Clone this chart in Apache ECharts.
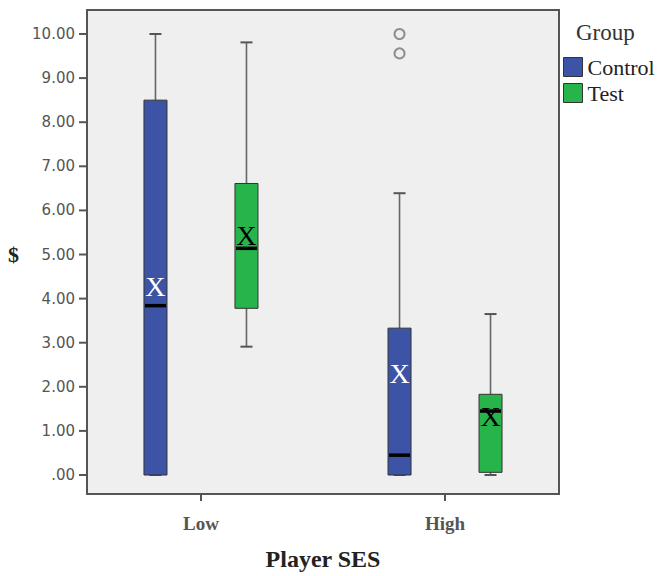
<!DOCTYPE html>
<html>
<head>
<meta charset="utf-8">
<script src="https://cdn.jsdelivr.net/npm/echarts@6/dist/echarts.min.js"></script>
<style>
  html, body { margin: 0; padding: 0; background: #fff; }
  #chart { width: 658px; height: 576px; }
</style>
</head>
<body>
<div id="chart"></div>
<script>
// categories on the x axis (position = index + 1)
const categories = ['Low', 'High'];
const groups = ['Control', 'Test'];
// [min, Q1, median, Q3, max] for each category
const controlBox = [[0, 0, 3.84, 8.5, 10.0], [0, 0, 0.45, 3.33, 6.39]];
const testBox = [[2.91, 3.78, 5.14, 6.61, 9.81], [0, 0.06, 1.45, 1.83, 3.65]];
// group means (drawn as "X")
const controlMean = [4.28, 2.31];
const testMean = [5.43, 1.32];
// outliers: [category position, value]
const controlOutliers = [[2, 10.0], [2, 9.56]];
const yTicks = [0, 1, 2, 3, 4, 5, 6, 7, 8, 9, 10];

const colors = ['#3d54a6', '#27b44b'];
const meanColors = ['#ffffff', '#000000'];
const boxOffset = [-45.5, 45.5];
const boxWidth = 23;
const capWidth = 12;
const tickLength = 8;
const xRange = [0.533, 2.467];

const chartDom = document.getElementById('chart');
const myChart = echarts.init(chartDom, null, { renderer: 'svg' });

const toData = (box, mean) => box.map((b, i) => [i + 1].concat(b, [mean[i]]));

const renderBox = (params, api) => {
  const ci = api.value(0);
  const xc = api.coord([ci, 0])[0] + boxOffset[params.seriesIndex];
  const y = (k) => api.coord([ci, api.value(k)])[1];
  const yMin = y(1), yQ1 = y(2), yMed = y(3), yQ3 = y(4), yMax = y(5), yMean = y(6);
  const lineStyle = { stroke: '#666', lineWidth: 1.6 };
  return {
    type: 'group',
    children: [
      { type: 'line', shape: { x1: xc, y1: yQ3, x2: xc, y2: yMax }, style: lineStyle },
      { type: 'line', shape: { x1: xc, y1: yQ1, x2: xc, y2: yMin }, style: lineStyle },
      { type: 'line', shape: { x1: xc - capWidth / 2, y1: yMax, x2: xc + capWidth / 2, y2: yMax }, style: { stroke: '#555', lineWidth: 2 } },
      { type: 'line', shape: { x1: xc - capWidth / 2, y1: yMin, x2: xc + capWidth / 2, y2: yMin }, style: { stroke: '#555', lineWidth: 2 } },
      {
        type: 'rect',
        shape: { x: xc - boxWidth / 2, y: yQ3, width: boxWidth, height: yQ1 - yQ3 },
        style: { fill: colors[params.seriesIndex], stroke: '#333', lineWidth: 1 }
      },
      { type: 'line', shape: { x1: xc - boxWidth / 2 + 1, y1: yMed, x2: xc + boxWidth / 2 - 1, y2: yMed }, style: { stroke: '#000', lineWidth: 3.5 } },
      {
        type: 'text',
        x: xc,
        y: yMean,
        style: {
          text: 'X',
          fill: meanColors[params.seriesIndex],
          font: '28px "Liberation Serif"',
          align: 'center',
          verticalAlign: 'middle'
        }
      }
    ]
  };
};

// y ticks, placed through the y scale at the left edge of the plot
const renderTick = (params, api) => {
  const p = api.coord([api.value(0), api.value(1)]);
  return {
    type: 'line',
    shape: { x1: p[0] - tickLength, y1: p[1], x2: p[0], y2: p[1] },
    style: { stroke: '#555', lineWidth: 2 }
  };
};

const option = {
  animation: false,
  backgroundColor: '#fff',
  title: {
    text: 'Group',
    left: 576,
    top: 21,
    padding: 0,
    textStyle: { fontFamily: 'Liberation Serif', fontSize: 23, fontWeight: 'normal', color: '#333' }
  },
  legend: {
    data: groups,
    orient: 'vertical',
    left: 563,
    top: 56,
    padding: 0,
    icon: 'rect',
    itemWidth: 19,
    itemHeight: 19,
    itemGap: 4,
    itemStyle: { borderColor: '#333', borderWidth: 1 },
    textStyle: { fontFamily: 'Liberation Serif', fontSize: 22, color: '#222' }
  },
  grid: [
    // frame of the plot
    {
      left: 87,
      right: 99,
      top: 10,
      bottom: 77,
      show: true,
      backgroundColor: '#efefef',
      borderColor: '#555',
      borderWidth: 2
    },
    // data area, 0 .. 10
    { left: 87, right: 99, top: 34, bottom: 101 }
  ],
  xAxis: [
    {
      gridIndex: 0,
      type: 'value',
      min: xRange[0],
      max: xRange[1],
      name: 'Player SES',
      nameLocation: 'middle',
      nameGap: 53,
      nameTextStyle: { fontFamily: 'Liberation Serif', fontSize: 24, fontWeight: 'bold', color: '#222' },
      axisLine: { show: true, onZero: false, lineStyle: { color: '#555', width: 2 } },
      splitLine: { show: false },
      axisTick: { show: true, length: 7, customValues: [1, 2], lineStyle: { color: '#555', width: 2 } },
      axisLabel: {
        customValues: [1, 2],
        margin: 20,
        formatter: (v) => categories[v - 1],
        fontFamily: 'Liberation Serif',
        fontSize: 19,
        fontWeight: 'bold',
        color: '#555'
      }
    },
    { gridIndex: 1, type: 'value', min: xRange[0], max: xRange[1], show: false }
  ],
  yAxis: [
    { gridIndex: 0, type: 'value', min: -0.54, max: 10.54, show: false },
    {
      gridIndex: 1,
      type: 'value',
      min: yTicks[0],
      max: yTicks[yTicks.length - 1],
      interval: 1,
      name: '$',
      nameLocation: 'middle',
      nameRotate: 0,
      nameGap: 68,
      nameTextStyle: { fontFamily: 'Liberation Serif', fontSize: 22, fontWeight: 'bold', color: '#222' },
      axisLine: { show: false, onZero: false },
      splitLine: { show: false },
      axisTick: { show: false },
      axisLabel: {
        margin: 12,
        formatter: (v) => (v === 0 ? '.00' : v.toFixed(2)),
        fontFamily: 'DejaVu Sans',
        fontSize: 15,
        color: '#555'
      }
    }
  ],
  series: [
    {
      name: 'Control',
      type: 'custom',
      xAxisIndex: 1,
      yAxisIndex: 1,
      itemStyle: { color: colors[0] },
      data: toData(controlBox, controlMean),
      renderItem: renderBox
    },
    {
      name: 'Test',
      type: 'custom',
      xAxisIndex: 1,
      yAxisIndex: 1,
      itemStyle: { color: colors[1] },
      data: toData(testBox, testMean),
      renderItem: renderBox
    },
    {
      name: 'Outliers',
      type: 'scatter',
      xAxisIndex: 1,
      yAxisIndex: 1,
      clip: false,
      symbol: 'circle',
      symbolSize: 10,
      symbolOffset: [boxOffset[0], 0],
      itemStyle: { color: 'transparent', borderColor: '#777', borderWidth: 2 },
      data: controlOutliers
    },
    {
      name: 'yTicks',
      type: 'custom',
      xAxisIndex: 1,
      yAxisIndex: 1,
      clip: false,
      silent: true,
      data: yTicks.map((v) => [xRange[0], v]),
      renderItem: renderTick
    }
  ]
};
myChart.setOption(option);
</script>
</body>
</html>
